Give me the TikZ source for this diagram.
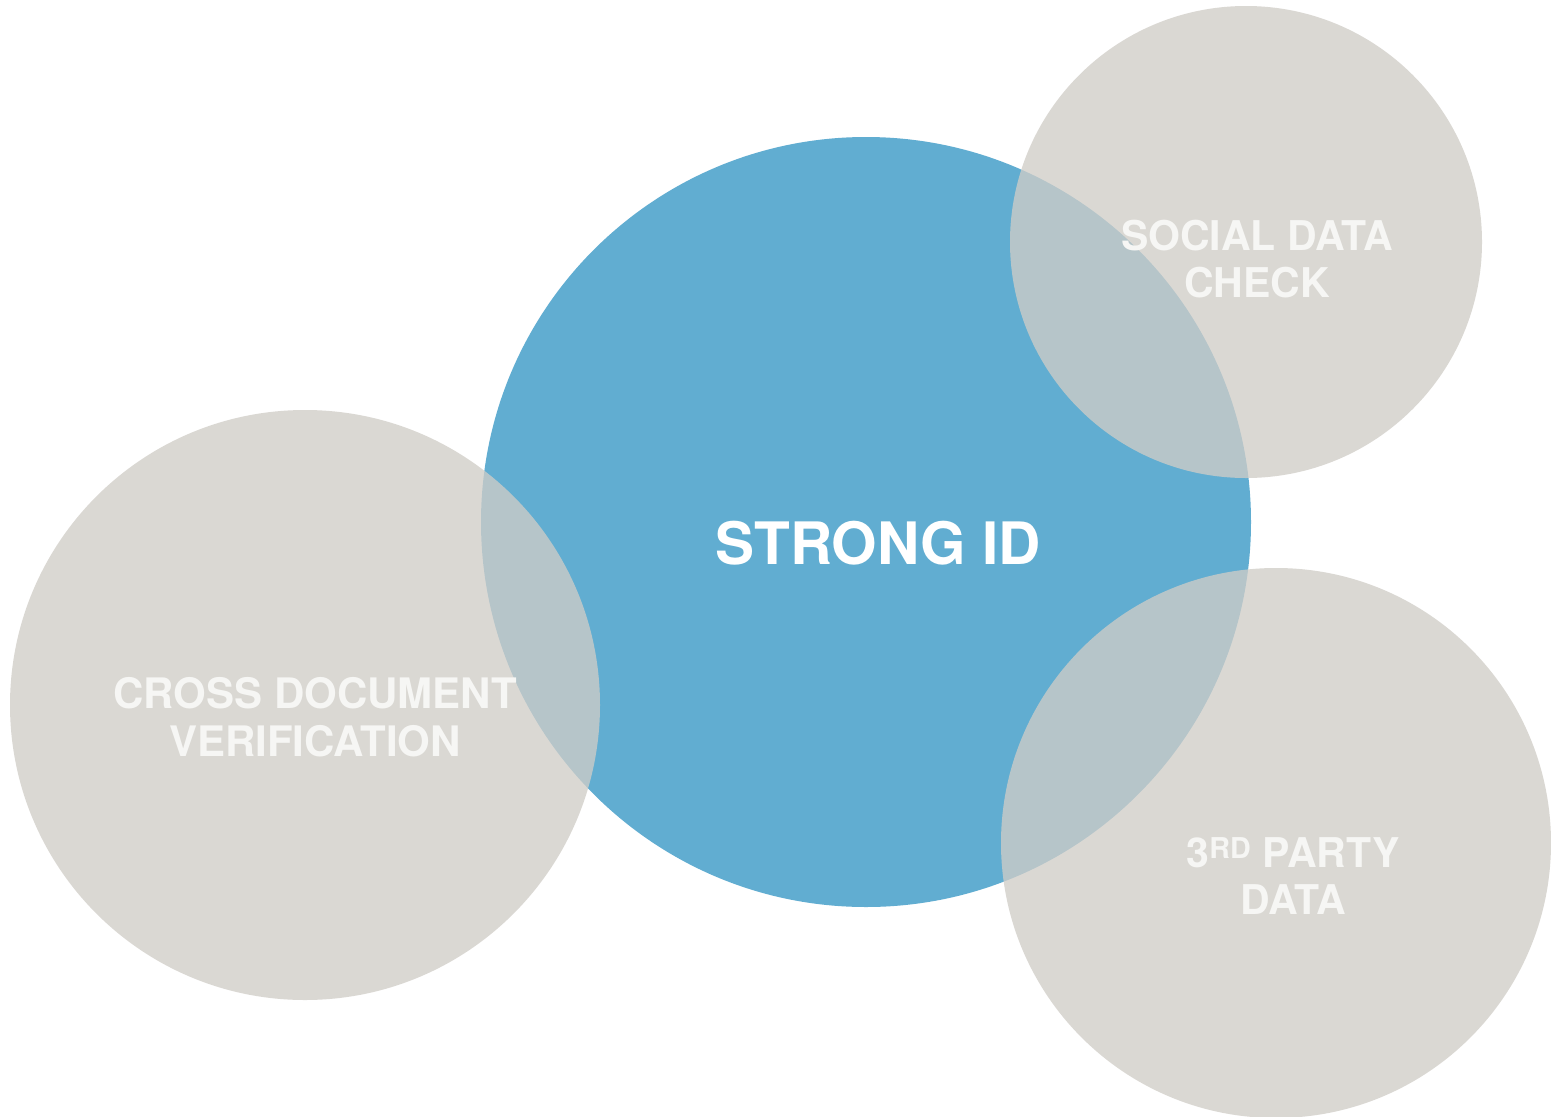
\documentclass[tikz,border=0pt]{standalone}
\usepackage{fontspec}
\setmainfont{TeX Gyre Heros}
\definecolor{idblue}{RGB}{97,173,209}
\definecolor{idgray}{RGB}{208,205,199}
\definecolor{txtw}{RGB}{246,246,244}
\tikzset{
  bluecirc/.style={circle, fill=idblue, inner sep=0pt},
  graycirc/.style={circle, fill=idgray, fill opacity=0.77, inner sep=0pt},
  lbl/.style={text=txtw, font=\bfseries, align=center, inner sep=0pt},
}
\begin{document}
\begin{tikzpicture}[x=1pt,y=-1pt]
\useasboundingbox (0,0) rectangle (1551,1117);
\fill[white] (0,0) rectangle (1551,1117);
\node[bluecirc, minimum size=770pt] (blue) at (866,522) {};
\node[graycirc, minimum size=590pt] (left) at (305,705) {};
\node[graycirc, minimum size=472pt] (tr) at (1246,242) {};
\node[graycirc, minimum size=550pt] (br) at (1276,843) {};
\node[lbl, font=\bfseries\fontsize{58.5}{60}\selectfont, text=white] (tblue) at (878,543) {STRONG ID};
\node[lbl, font=\bfseries\fontsize{41}{47}\selectfont] (ttr) at (1257,259) {SOCIAL DATA\\CHECK};
\node[lbl, font=\bfseries\fontsize{42}{48}\selectfont] (tleft) at (315,717) {CROSS DOCUMENT\\VERIFICATION};
\node[lbl, font=\bfseries\fontsize{41}{47}\selectfont] (tbr) at (1293,876) {3\textsuperscript{RD} PARTY\\DATA};
\end{tikzpicture}
\end{document}
